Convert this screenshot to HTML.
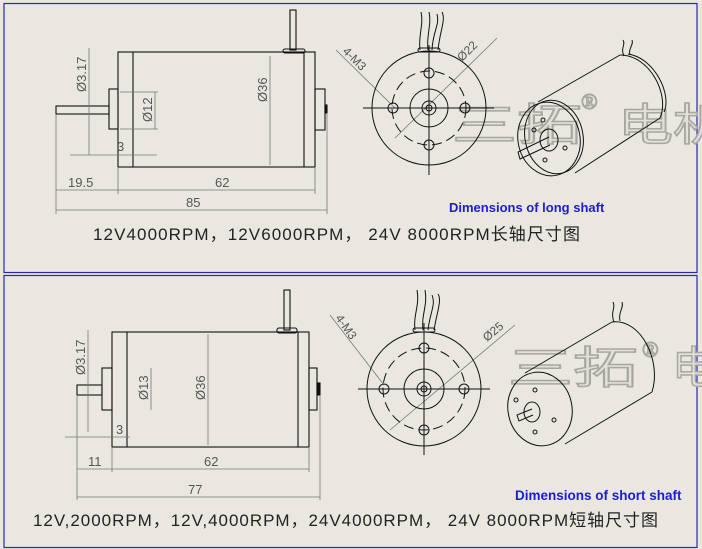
<!DOCTYPE html>
<html><head><meta charset="utf-8"><style>
html,body{margin:0;padding:0;background:#e9e7df;}
svg{display:block}
</style></head><body>
<svg width="702" height="549" viewBox="0 0 702 549" xmlns="http://www.w3.org/2000/svg" font-family="Liberation Sans, sans-serif">
<rect width="702" height="549" fill="#e9e7df"/>
<rect x="4" y="3.5" width="693" height="269" fill="none" stroke="#2a2ab0" stroke-width="1.2"/>
<rect x="4" y="275.5" width="693" height="272" fill="none" stroke="#2a2ab0" stroke-width="1.2"/>

<!-- watermarks -->
<g font-family="Noto Sans CJK SC, sans-serif" font-size="44" fill="#e2e0d8" stroke="#a8a6a0" stroke-width="1.5">
<text x="452" y="140" textLength="130" lengthAdjust="spacingAndGlyphs">三拓</text><text x="618" y="140" textLength="110" lengthAdjust="spacingAndGlyphs">电机</text>
<text x="508" y="383" textLength="130" lengthAdjust="spacingAndGlyphs">三拓</text><text x="672" y="383">电</text>
</g>
<g font-family="Liberation Serif, serif" font-size="22" fill="#e2e0d8" stroke="#a8a6a0" stroke-width="1.2">
<text x="581" y="109">®</text><text x="642" y="357">®</text>
</g>

<g fill="none" stroke="#111" stroke-width="1.1">
<!-- TOP side view -->
<rect x="118" y="52" width="197" height="115"/>
<line x1="133" y1="52" x2="133" y2="167"/><line x1="304" y1="52" x2="304" y2="167"/>
<rect x="109" y="89" width="9" height="40"/>
<rect x="56" y="106" width="53" height="8"/>
<rect x="315" y="89" width="10" height="41"/>
<rect x="325" y="105" width="2" height="8" fill="#111"/>
<rect x="290" y="10" width="6" height="40"/>
<rect x="283" y="49" width="22" height="4" rx="2"/>
</g>
<g fill="none" stroke="#777" stroke-width="0.8">
<line x1="56" y1="114" x2="56" y2="214"/><line x1="118" y1="167" x2="118" y2="194"/>
<line x1="315" y1="167" x2="315" y2="194"/><line x1="327" y1="113" x2="327" y2="214"/>
<line x1="56" y1="190" x2="315" y2="190"/><line x1="56" y1="210" x2="327" y2="210"/>
<line x1="89" y1="48" x2="89" y2="155"/><line x1="70" y1="155" x2="157" y2="155"/>
<line x1="155" y1="92" x2="155" y2="129"/><line x1="120" y1="92" x2="158" y2="92"/><line x1="120" y1="129" x2="158" y2="129"/>
<line x1="270" y1="56" x2="270" y2="165"/>
<line x1="336" y1="50" x2="395" y2="108"/><line x1="497" y1="38" x2="395" y2="138"/>
</g>
<g font-size="13" fill="#555">
<text x="68" y="187">19.5</text><text x="215" y="187">62</text><text x="186" y="207">85</text>
<text x="117" y="151">3</text>
<text transform="translate(86,92) rotate(-90)">Ø3.17</text>
<text transform="translate(152,122) rotate(-90)">Ø12</text>
<text transform="translate(267,102) rotate(-90)">Ø36</text>
<text transform="translate(342,52) rotate(45)" font-size="12">4-M3</text>
<text transform="translate(462,62) rotate(-45)" font-size="12">Ø22</text>
</g>
<!-- TOP end view -->
<g fill="none" stroke="#111" stroke-width="1">
<circle cx="429" cy="108" r="57"/>
<circle cx="429" cy="108" r="37" stroke-dasharray="10 5"/>
<circle cx="429" cy="108" r="19"/><circle cx="429" cy="108" r="7"/><circle cx="429" cy="108" r="3"/>
<circle cx="393" cy="108" r="5"/><circle cx="465" cy="108" r="5"/><circle cx="429" cy="73" r="5"/><circle cx="429" cy="145" r="5"/>
<line x1="363" y1="108" x2="494" y2="108"/><line x1="429" y1="45" x2="429" y2="175"/>
<path d="M420 50 C418 35 424 25 421 12 M428 50 C426 35 432 25 429 12 M432 50 C433 30 440 25 437 14 M438 50 C440 30 446 20 442 12"/>
<rect x="418" y="48" width="22" height="4" rx="2"/>
</g>
<!-- TOP iso -->
<g fill="none" stroke="#111" stroke-width="1">
<ellipse cx="549" cy="139" rx="31" ry="37" transform="rotate(-12 549 139)"/>
<ellipse cx="554" cy="137" rx="29" ry="37" transform="rotate(-12 554 137)"/>
<line x1="538" y1="102" x2="620" y2="55"/><line x1="575" y1="173" x2="660" y2="118"/>
<path d="M620 55 C650 55 670 95 660 118 M628 54 C655 58 672 95 664 112"/>
<ellipse cx="549" cy="140" rx="9" ry="11"/>
<path d="M549 137 L518 152 L520 159 L550 145"/>
<circle cx="543" cy="120" r="2"/><circle cx="534" cy="130" r="2"/><circle cx="565" cy="148" r="2"/><circle cx="545" cy="160" r="2"/>
<path d="M624 56 C620 48 626 45 623 40 M630 55 C628 48 634 45 632 40"/>
</g>
<text x="449" y="212" font-size="13" font-weight="bold" fill="#1c1cd8">Dimensions of long shaft</text>
<text x="93" y="240" font-size="17" fill="#222" font-family="Liberation Sans, Noto Sans CJK SC, sans-serif" textLength="487">12V4000RPM，12V6000RPM， 24V 8000RPM长轴尺寸图</text>

<!-- BOTTOM side view -->
<g fill="none" stroke="#111" stroke-width="1.1">
<rect x="112" y="332" width="197" height="115"/>
<line x1="127" y1="332" x2="127" y2="447"/><line x1="298" y1="332" x2="298" y2="447"/>
<rect x="102" y="368" width="10" height="42"/>
<rect x="77" y="385" width="25" height="10"/>
<rect x="309" y="368" width="8" height="42"/>
<rect x="317" y="383" width="3" height="12" fill="#111"/>
<rect x="284" y="290" width="6" height="40"/>
<rect x="277" y="328" width="20" height="5" rx="2"/>
</g>
<g fill="none" stroke="#777" stroke-width="0.8">
<line x1="77" y1="395" x2="77" y2="500"/><line x1="112" y1="447" x2="112" y2="472"/>
<line x1="309" y1="447" x2="309" y2="472"/><line x1="320" y1="395" x2="320" y2="500"/>
<line x1="77" y1="469" x2="309" y2="469"/><line x1="77" y1="497" x2="320" y2="497"/>
<line x1="88" y1="330" x2="88" y2="432"/><line x1="65" y1="437" x2="130" y2="437"/>
<line x1="151" y1="368" x2="151" y2="410"/>
<line x1="208" y1="334" x2="208" y2="445"/>
<line x1="330" y1="315" x2="384" y2="385"/><line x1="515" y1="325" x2="390" y2="430"/>
</g>
<g font-size="13" fill="#555">
<text x="88" y="466">11</text><text x="204" y="466">62</text><text x="188" y="494">77</text>
<text x="116" y="434">3</text>
<text transform="translate(85,375) rotate(-90)">Ø3.17</text>
<text transform="translate(148,400) rotate(-90)">Ø13</text>
<text transform="translate(205,400) rotate(-90)">Ø36</text>
<text transform="translate(335,318) rotate(55)" font-size="12">4-M3</text>
<text transform="translate(487,342) rotate(-40)" font-size="12">Ø25</text>
</g>
<!-- BOTTOM end view -->
<g fill="none" stroke="#111" stroke-width="1">
<circle cx="424" cy="389" r="57"/>
<circle cx="424" cy="389" r="41" stroke-dasharray="10 5"/>
<circle cx="424" cy="389" r="20"/><circle cx="424" cy="389" r="7"/><circle cx="424" cy="389" r="3"/>
<circle cx="384" cy="389" r="5"/><circle cx="464" cy="389" r="5"/><circle cx="424" cy="348" r="5"/><circle cx="424" cy="430" r="5"/>
<line x1="358" y1="389" x2="490" y2="389"/><line x1="424" y1="323" x2="424" y2="455"/>
<path d="M415 330 C413 315 420 305 417 290 M423 330 C421 315 428 305 425 290 M428 330 C430 312 436 305 432 295 M434 330 C437 312 442 300 438 294"/>
<rect x="413" y="328" width="22" height="4" rx="2"/>
</g>
<!-- BOTTOM iso -->
<g fill="none" stroke="#111" stroke-width="1">
<ellipse cx="540" cy="409" rx="32" ry="37" transform="rotate(-12 540 409)"/>
<line x1="525" y1="373" x2="612" y2="322"/><line x1="565" y1="444" x2="652" y2="392"/>
<path d="M612 322 C640 318 662 360 652 392"/>
<ellipse cx="532" cy="412" rx="8" ry="10"/>
<path d="M532 409 L517 415 L519 421 L533 415"/>
<circle cx="535" cy="390" r="2"/><circle cx="516" cy="400" r="2"/><circle cx="554" cy="420" r="2"/><circle cx="535" cy="432" r="2"/>
<path d="M614 322 C610 312 616 308 613 302 M620 321 C618 312 624 308 622 302"/>
</g>
<text x="515" y="500" font-size="13.5" font-weight="bold" fill="#1c1cd8">Dimensions of short shaft</text>
<text x="33" y="526" font-size="17" fill="#222" font-family="Liberation Sans, Noto Sans CJK SC, sans-serif" textLength="625">12V,2000RPM，12V,4000RPM，24V4000RPM， 24V 8000RPM短轴尺寸图</text>
</svg>
</body></html>
